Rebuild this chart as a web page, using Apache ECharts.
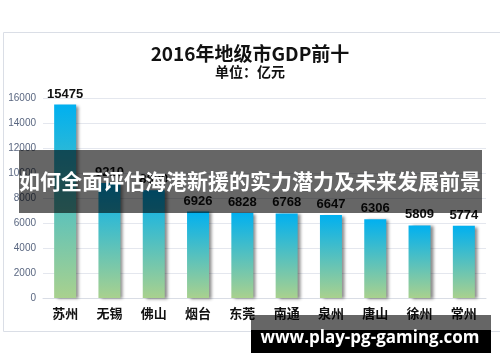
<!DOCTYPE html>
<html><head><meta charset="utf-8">
<script src="https://cdn.jsdelivr.net/npm/echarts@6/dist/echarts.min.js"></script>
<style>html,body{margin:0;padding:0;background:#fff}#c{width:500px;height:362px}</style>
</head><body><div id="c"></div>
<script>
const categories = ['苏州','无锡','佛山','烟台','东莞','南通','泉州','唐山','徐州','常州'];
const gdpValues = [15475, 9210, 8630, 6926, 6828, 6768, 6647, 6306, 5809, 5774];
const titleText = '2016年地级市GDP前十';
const subtitleText = '单位：亿元';
const bannerText = '如何全面评估海港新援的实力潜力及未来发展前景';
const watermarkText = 'www.play-pg-gaming.com';

const CJK = '"Noto Sans CJK SC", "Microsoft YaHei", sans-serif';
const chart = echarts.init(document.getElementById('c'), null, {renderer: 'canvas'});
chart.setOption({
  animation: false,
  backgroundColor: '#fff',
  title: {
    text: titleText, subtext: subtitleText, left: 'center', top: 39, itemGap: 2,
    textStyle: {fontFamily: CJK, fontSize: 19, fontWeight: 'bold', color: '#111'},
    subtextStyle: {fontFamily: CJK, fontSize: 14, fontWeight: 'bold', color: '#111'}
  },
  grid: {left: 43, right: 14, top: 98, bottom: 64},
  xAxis: {
    type: 'category', data: categories,
    axisLine: {lineStyle: {color: '#d9dde5'}}, axisTick: {show: false},
    axisLabel: {fontFamily: CJK, fontSize: 13, fontWeight: 'bold', color: '#111', margin: 9}
  },
  yAxis: {
    type: 'value', min: 0, max: 16000, interval: 2000,
    axisLine: {show: false}, axisTick: {show: false},
    splitLine: {lineStyle: {color: '#e4e7ee'}},
    axisLabel: {formatter: v => String(v), fontFamily: '"Liberation Sans", sans-serif', fontSize: 10, color: '#5a6781', margin: 7}
  },
  series: [{
    type: 'bar', data: gdpValues, barWidth: 22,
    itemStyle: {
      color: new echarts.graphic.LinearGradient(0, 0, 0, 1, [
        {offset: 0, color: '#00b0f0'}, {offset: 1, color: '#a9d18e'}
      ]),
      shadowColor: 'rgba(0,0,0,0.45)', shadowOffsetX: 3, shadowOffsetY: 1, shadowBlur: 3
    },
    label: {show: true, position: 'top', distance: 4, fontFamily: '"Liberation Sans", sans-serif', fontSize: 13, fontWeight: 'bold', color: '#111'}
  }],
  graphic: [
    {type: 'rect', left: 1, top: 30, shape: {width: 497, height: 299}, style: {fill: 'none', stroke: '#dadee6', lineWidth: 1}, z: 0, silent: true},
    {type: 'rect', left: 19, top: 150, shape: {width: 463, height: 63}, style: {fill: 'rgba(0,0,0,0.6)'}, z: 100},
    {type: 'text', left: 'center', top: 171, style: {text: bannerText, fill: '#fff', font: 'bold 21px "Noto Sans CJK SC", sans-serif'}, z: 101},
    {type: 'rect', left: 251, top: 315, shape: {width: 240, height: 15}, style: {fill: 'rgba(0,0,0,0.6)'}, z: 100},
    {type: 'rect', left: 251, top: 330, shape: {width: 240, height: 23}, style: {fill: '#000'}, z: 100},
    {type: 'text', x: 370, y: 338, style: {text: watermarkText, fill: '#fff', align: 'center', verticalAlign: 'middle', font: 'bold 17px "Open Sans", sans-serif'}, z: 101}
  ]
});
</script></body></html>
